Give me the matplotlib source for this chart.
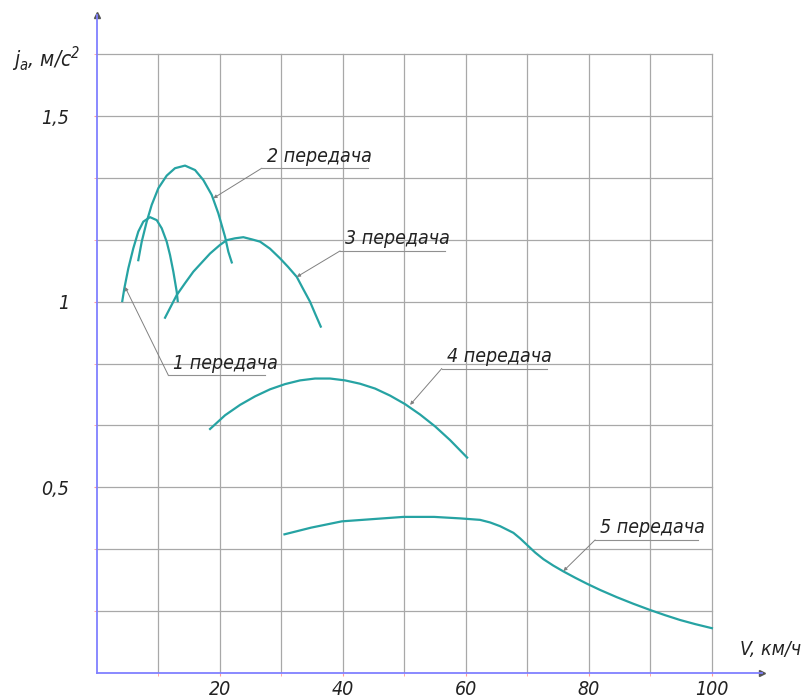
import numpy as np
import matplotlib.pyplot as plt

plt.rcParams['font.family'] = ['DejaVu Sans']
plt.rcParams['font.stretch'] = 'condensed'
plt.rcParams['font.style'] = 'italic'
plt.rcParams['mathtext.fontset'] = 'custom'
plt.rcParams['mathtext.rm'] = 'DejaVu Sans:italic'
plt.rcParams['mathtext.it'] = 'DejaVu Sans:italic'

# Acceleration j_a (m/s^2) vs speed V (km/h) for each gear
v1 = [4.13, 4.46, 5.11, 5.92, 6.73, 7.55, 8.64, 9.73, 10.54, 11.35, 11.89, 12.43, 12.98, 13.14]
a1 = [1.002, 1.036, 1.090, 1.144, 1.189, 1.216, 1.228, 1.220, 1.198, 1.162, 1.126, 1.081, 1.027, 1.002]

v2 = [6.73, 7.29, 8.10, 8.91, 9.99, 11.35, 12.70, 14.33, 15.96, 17.31, 18.67, 19.75, 20.84, 21.37, 21.93]
a2 = [1.112, 1.162, 1.216, 1.261, 1.306, 1.340, 1.360, 1.367, 1.355, 1.328, 1.288, 1.238, 1.175, 1.135, 1.106]

v3 = [11.08, 12.98, 14.33, 15.68, 18.40, 20.00, 21.11, 22.46, 23.81, 25.23, 26.53,
      28.15, 29.78, 31.08, 32.50, 33.52, 34.66, 35.48, 36.40]
a3 = [0.957, 1.018, 1.050, 1.081, 1.130, 1.153, 1.166, 1.171, 1.174, 1.168, 1.162,
      1.143, 1.117, 1.094, 1.067, 1.035, 1.000, 0.968, 0.933]

v4 = [18.40, 20.84, 23.28, 25.72, 28.16, 30.60, 33.04, 35.47, 37.91, 40.35, 42.79,
      45.23, 47.67, 50.11, 52.55, 54.99, 57.43, 60.20]
a4 = [0.657, 0.694, 0.722, 0.745, 0.764, 0.778, 0.788, 0.793, 0.793, 0.788, 0.779,
      0.766, 0.747, 0.724, 0.696, 0.664, 0.627, 0.580]

v5 = [30.50, 34.82, 39.83, 44.83, 49.84, 54.83, 59.06, 62.31, 63.94, 65.56, 67.73,
      68.82, 69.91, 71.26, 72.61, 74.19, 75.86, 77.77, 79.67, 81.83, 84.55, 87.20,
      89.96, 92.40, 94.84, 97.28, 100.0]
a5 = [0.373, 0.391, 0.408, 0.414, 0.420, 0.420, 0.416, 0.412, 0.405, 0.395, 0.377,
      0.362, 0.345, 0.324, 0.306, 0.289, 0.273, 0.256, 0.240, 0.223, 0.2035, 0.186,
      0.169, 0.155, 0.142, 0.131, 0.120]

gear_names = ['1 передача', '2 передача', '3 передача', '4 передача', '5 передача']

x_ticks = [20, 40, 60, 80, 100]
y_ticks = [0.5, 1.0, 1.5]
y_ticklabels = ['0,5', '1', '1,5']

# callouts: point on curve, start of the shelf line, end of the shelf line
callout_pts = [(4.57, 1.040), (18.93, 1.279), (32.50, 1.067), (50.93, 0.722), (75.86, 0.274)]
shelf_start = [(11.61, 0.802), (26.81, 1.360), (39.54, 1.137), (56.08, 0.820), (81.02, 0.358)]
shelf_end = [27.34, 44.14, 56.62, 73.16, 97.82]

W, H = 807, 698
fig = plt.figure(figsize=(W / 100, H / 100), dpi=100)
ax = fig.add_axes([96.9 / W, (H - 672.7) / H, (761.7 - 96.9) / W, (672.7 - 15) / H])
ax.set_xlim(0, 108.1)
ax.set_ylim(0, 1.773)

# grid
grid_c = '#a8a8a8'
for v in range(10, 101, 10):
    ax.plot([v, v], [0, 10 / 6], color=grid_c, lw=0.9, zorder=1)
for k in range(1, 11):
    ax.plot([0, 100], [k / 6, k / 6], color=grid_c, lw=0.9, zorder=1)

curve_c = '#26a3a3'
for v, a in [(v1, a1), (v2, a2), (v3, a3), (v4, a4), (v5, a5)]:
    ax.plot(v, a, color=curve_c, lw=1.6, zorder=3, solid_joinstyle='round')

# gear labels with leaders
for name, p, s, e in zip(gear_names, callout_pts, shelf_start, shelf_end):
    ax.annotate('', xy=p, xytext=s,
                arrowprops=dict(arrowstyle='-|>', mutation_scale=5, lw=0.7,
                                color='#808080', shrinkA=0, shrinkB=0), zorder=4)
    ax.plot([s[0], e], [s[1], s[1]], color='#909090', lw=0.8, zorder=4)
    ax.text(s[0] + 0.8, s[1] + 0.018, name, fontsize=14, color='#222222',
            ha='left', va='baseline', zorder=5)

# axes
for side in ['top', 'right']:
    ax.spines[side].set_visible(False)
for side in ['left', 'bottom']:
    ax.spines[side].set_color('#8080ff')
    ax.spines[side].set_linewidth(1.3)
ax.plot(1, 0, '>', color='#555555', ms=4, transform=ax.transAxes, clip_on=False)
ax.plot(0, 1, '^', color='#555555', ms=4, transform=ax.transAxes, clip_on=False)

ax.set_xticks(x_ticks)
ax.set_xticklabels([str(t) for t in x_ticks])
ax.set_xticks(range(10, 101, 10), minor=True)
ax.set_yticks(y_ticks)
ax.set_yticklabels(y_ticklabels)
ax.set_yticks([k / 6 for k in range(1, 11)], minor=True)
ax.tick_params(which='both', length=2, color='#ff9999', labelsize=14, labelcolor='#222222')
ax.tick_params(axis='x', pad=3)
ax.tick_params(axis='y', pad=18)

ax.text(-0.127, 0.932, r'$j_a$, м/с$^{2}$', transform=ax.transAxes, fontsize=15,
        color='#222222', ha='left', va='center')
ax.text(0.968, 0.035, 'V, км/ч', transform=ax.transAxes, fontsize=14,
        color='#222222', ha='left', va='center')

fig.savefig('out.png', dpi=100)
